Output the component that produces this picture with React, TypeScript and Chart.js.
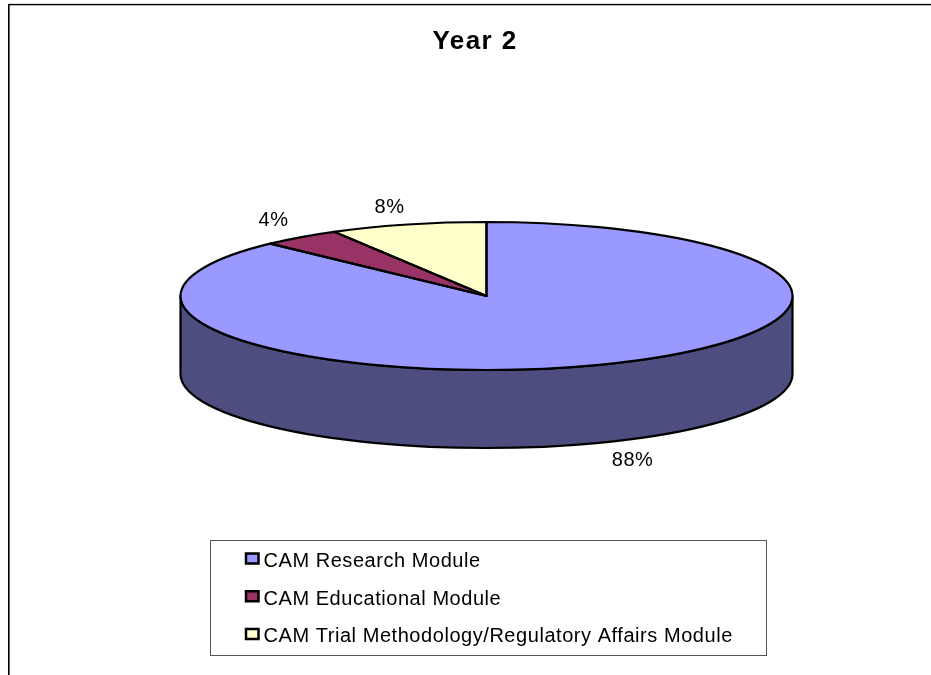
import React, { useEffect, useRef } from "react";
import { Chart, registerables } from "chart.js";

Chart.register(...registerables);

const titleText = "Year 2";
const categories = [
  "CAM Research Module",
  "CAM Educational Module",
  "CAM Trial Methodology/Regulatory Affairs Module",
];
const shares = [87.5, 4.2, 8.3];
const sliceColors = ["#9999ff", "#993366", "#ffffcc"];
const wallColors = ["#4d4d80", "#4d1a33", "#808066"];
// px offset of every percent label from the rim point at its slice's middle
const labelNudges = [
  [29, 18],
  [-27, -17],
  [-18, -17],
];

const FONT = "'Liberation Sans', Arial, sans-serif";
const PIE_CY = 296;
const SQUASH = 74 / 306;
const DEPTH = 78;
const LEGEND_FRAME = { l: 210.5, t: 540.5, r: 766.5, b: 655.5 };
const LEGEND_TEXT_SHIFT = { x: -5, y: 3 };

const pie3d = {
  id: "pie3d",
  afterLayout(chart: any) {
    const legend = chart.legend;
    const pad = legend.options.labels.padding;
    legend.left = 246 - pad;
    legend.right = legend.left + 540;
    legend.top = 548.5 - pad;
    legend.bottom = legend.top + 300;
    const title = chart.titleBlock;
    title.left = 19;
    title.right = 931;
    title.top = 0;
  },
  beforeDraw(chart: any) {
    const { ctx } = chart;
    ctx.save();
    ctx.fillStyle = "#ffffff";
    ctx.fillRect(0, 0, chart.width, chart.height);
    // page frame
    ctx.fillStyle = "#d8d8d8";
    ctx.fillRect(8, 3, chart.width - 8, 1);
    ctx.fillStyle = "#8a8a8a";
    ctx.fillRect(9, 5, 1, chart.height - 5);
    ctx.fillStyle = "#000000";
    ctx.fillRect(8, 4, chart.width - 8, 1.3);
    ctx.fillRect(8, 4, 1.3, chart.height - 4);
    // legend frame
    ctx.strokeStyle = "#555555";
    ctx.lineWidth = 1;
    ctx.strokeRect(
      LEGEND_FRAME.l,
      LEGEND_FRAME.t,
      LEGEND_FRAME.r - LEGEND_FRAME.l,
      LEGEND_FRAME.b - LEGEND_FRAME.t
    );
    ctx.restore();
    (ctx as any).letterSpacing = "0.55px";
    // the legend puts its text a fixed half-font from the swatch; pull it closer
    ctx.fillText = function (text: string, x: number, y: number, maxWidth?: number) {
      const proto = CanvasRenderingContext2D.prototype.fillText;
      if (categories.includes(text)) {
        proto.call(this, text, x + LEGEND_TEXT_SHIFT.x, y + LEGEND_TEXT_SHIFT.y);
      } else if (text === titleText) {
        (this as any).letterSpacing = "1.4px";
        proto.call(this, text, x, y);
        (this as any).letterSpacing = "0.55px";
      } else if (maxWidth === undefined) {
        proto.call(this, text, x, y);
      } else {
        proto.call(this, text, x, y, maxWidth);
      }
    };
  },
  beforeDatasetsDraw(chart: any) {
    const { ctx } = chart;
    const arcs = chart.getDatasetMeta(0).data;
    ctx.save();
    ctx.lineWidth = 2.2;
    ctx.strokeStyle = "#000000";
    ctx.lineJoin = "round";
    arcs.forEach((arc: any, i: number) => {
      const tau = Math.PI * 2;
      for (const turn of [0, tau, -tau]) {
        const a0 = Math.max(arc.startAngle + turn, 0);
        const a1 = Math.min(arc.endAngle + turn, Math.PI);
        if (a1 <= a0) continue;
        const r = arc.outerRadius;
        const ry = r * SQUASH;
        ctx.beginPath();
        ctx.ellipse(arc.x, PIE_CY, r, ry, 0, a0, a1);
        ctx.ellipse(arc.x, PIE_CY + DEPTH, r, ry, 0, a1, a0, true);
        ctx.closePath();
        ctx.fillStyle = wallColors[i];
        ctx.fill();
        ctx.stroke();
      }
    });
    ctx.restore();
  },
  beforeDatasetDraw(chart: any) {
    const { ctx } = chart;
    const arc = chart.getDatasetMeta(0).data[0];
    ctx.save();
    ctx.translate(arc.x, PIE_CY);
    ctx.scale(1, SQUASH);
    ctx.translate(-arc.x, -arc.y);
  },
  afterDatasetDraw(chart: any) {
    const { ctx } = chart;
    ctx.restore();
    const arcs = chart.getDatasetMeta(0).data;
    ctx.save();
    ctx.lineWidth = 2.2;
    ctx.strokeStyle = "#000000";
    ctx.lineJoin = "round";
    arcs.forEach((arc: any) => {
      const r = arc.outerRadius;
      ctx.beginPath();
      ctx.moveTo(arc.x, PIE_CY);
      ctx.ellipse(arc.x, PIE_CY, r, r * SQUASH, 0, arc.startAngle, arc.endAngle);
      ctx.closePath();
      ctx.stroke();
    });
    ctx.font = `20px ${FONT}`;
    ctx.fillStyle = "#000000";
    ctx.textAlign = "center";
    ctx.textBaseline = "middle";
    const total = shares.reduce((a, b) => a + b, 0);
    arcs.forEach((arc: any, i: number) => {
      const mid = (arc.startAngle + arc.endAngle) / 2;
      const r = arc.outerRadius;
      const below = Math.sin(mid) > 0 ? DEPTH : 0;
      const x = arc.x + r * Math.cos(mid) + labelNudges[i][0];
      const y = PIE_CY + r * SQUASH * Math.sin(mid) + below + labelNudges[i][1];
      ctx.fillText(`${Math.round((shares[i] / total) * 100)}%`, x, y);
    });
    ctx.restore();
  },
  afterDraw(chart: any) {
    (chart.ctx as any).letterSpacing = "0px";
    delete chart.ctx.fillText;
  },
};

export default function App() {
  const ref = useRef<HTMLCanvasElement>(null);
  useEffect(() => {
    document.body.style.margin = "0";
    const chart = new Chart(ref.current as HTMLCanvasElement, {
      type: "pie",
      data: {
        labels: categories,
        datasets: [
          {
            data: shares,
            backgroundColor: sliceColors,
            borderWidth: 0,
            clip: false,
          } as any,
        ],
      },
      options: {
        animation: false,
        responsive: false,
        devicePixelRatio: 1,
        layout: { padding: { left: 180.5, right: 138.5, top: 0, bottom: 0 } },
        plugins: {
          title: {
            display: true,
            text: titleText,
            color: "#000000",
            font: { family: FONT, size: 26, weight: "bold" },
            padding: { top: 26, bottom: 0 },
          },
          legend: {
            display: true,
            position: "chartArea" as any,
            align: "start",
            labels: {
              color: "#000000",
              font: { family: FONT, size: 20 },
              boxWidth: 12.5,
              boxHeight: 10,
              padding: 17.7,
              generateLabels: (c: any) =>
                (Chart as any).overrides.pie.plugins.legend.labels
                  .generateLabels(c)
                  .map((item: any) => ({ ...item, lineWidth: 2.5, strokeStyle: "#000000" })),
            },
          },
          tooltip: { enabled: false },
        },
      },
      plugins: [pie3d as any],
    });
    return () => chart.destroy();
  }, []);
  return (
    <canvas
      ref={ref}
      width={931}
      height={675}
      style={{ display: "block", width: 931, height: 675 }}
    />
  );
}
